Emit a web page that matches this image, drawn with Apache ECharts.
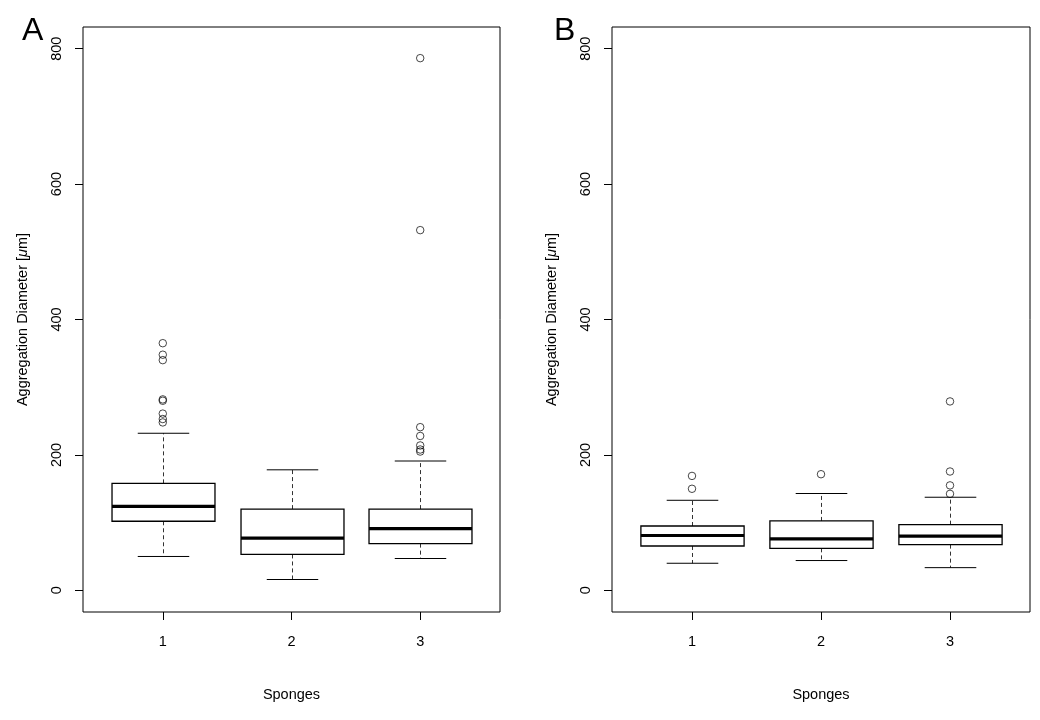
<!DOCTYPE html>
<html>
<head>
<meta charset="utf-8">
<script src="https://cdn.jsdelivr.net/npm/echarts@6/dist/echarts.min.js"></script>
<style>html,body{margin:0;padding:0;background:#fff}#c{width:1040px;height:720px}</style>
</head>
<body>
<div id="c"></div>
<script>
// ---- data ----
var categories = [1, 2, 3];
var yTicks = [0, 200, 400, 600, 800];
// [lower whisker, Q1, median, Q3, upper whisker]
var boxA1 = [50, 102, 124, 158, 232];
var boxA2 = [16, 53, 77, 120, 178];
var boxA3 = [47, 69, 91, 120, 191];
var outA1 = [365, 348, 340, 282, 280, 261, 253, 248];
var outA2 = [];
var outA3 = [786, 532, 241, 228, 214, 208, 205];
var boxB1 = [40, 65.5, 81, 95, 133];
var boxB2 = [44, 62, 76, 102.5, 143];
var boxB3 = [33.5, 67.5, 80, 97, 137.5];
var outB1 = [169, 150];
var outB2 = [171.5];
var outB3 = [279, 175.5, 155, 142.5];
var panelLabels = ['A', 'B'];
var xName = 'Sponges';
var yName = '{n|Aggregation Diameter [}{i|μ}{n|m]}';

var FONT = "'Liberation Sans', Arial, Helvetica, sans-serif";
var FS = 14.5;

function boxData(boxes) {
  return boxes.map(function (b, i) { return [categories[i]].concat(b); });
}
function outData(outs) {
  var r = [];
  outs.forEach(function (o, i) { o.forEach(function (v) { r.push([categories[i], v]); }); });
  return r;
}

function renderBox(params, api) {
  var x = api.value(0);
  var lo = api.coord([x, api.value(1)]);
  var q1 = api.coord([x, api.value(2)]);
  var md = api.coord([x, api.value(3)]);
  var q3 = api.coord([x, api.value(4)]);
  var hi = api.coord([x, api.value(5)]);
  var bw = api.size([0.8, 0])[0];
  var cw = api.size([0.4, 0])[0];
  var cx = Math.round(lo[0]) + 0.5;
  var stroke = { stroke: '#000', lineWidth: 1, fill: null };
  var dashed = { stroke: '#333', lineWidth: 1, lineDash: [4, 3], fill: null };
  return {
    type: 'group',
    children: [
      { type: 'line', shape: { x1: cx, y1: q3[1], x2: cx, y2: hi[1] }, style: dashed },
      { type: 'line', shape: { x1: cx, y1: q1[1], x2: cx, y2: lo[1] }, style: dashed },
      { type: 'line', shape: { x1: cx - cw / 2, y1: hi[1], x2: cx + cw / 2, y2: hi[1] }, style: stroke },
      { type: 'line', shape: { x1: cx - cw / 2, y1: lo[1], x2: cx + cw / 2, y2: lo[1] }, style: stroke },
      { type: 'rect', shape: { x: cx - bw / 2, y: q3[1], width: bw, height: q1[1] - q3[1] },
        style: { stroke: '#000', lineWidth: 1.3, fill: '#fff' } },
      { type: 'line', shape: { x1: cx - bw / 2, y1: md[1], x2: cx + bw / 2, y2: md[1] },
        style: { stroke: '#000', lineWidth: 3.2 } }
    ]
  };
}

function xAxisCfg(gi) {
  return {
    gridIndex: gi, type: 'value', min: 0.38, max: 3.62,
    axisLine: { show: false, onZero: false },
    splitLine: { show: false },
    axisTick: { show: true, inside: false, length: 8, customValues: categories, lineStyle: { color: '#000' } },
    axisLabel: { show: true, customValues: categories, margin: 22, color: '#000', fontSize: FS, fontFamily: FONT },
    name: xName, nameLocation: 'middle', nameGap: 75,
    nameTextStyle: { color: '#000', fontSize: FS, fontFamily: FONT }
  };
}
function yAxisCfg(gi) {
  return {
    gridIndex: gi, type: 'value', min: -32, max: 832,
    axisLine: { show: false, onZero: false },
    splitLine: { show: false },
    axisTick: { show: true, inside: false, length: 8, customValues: yTicks, lineStyle: { color: '#000' } },
    axisLabel: { show: true, customValues: yTicks, rotate: 90, margin: 19, color: '#000', fontSize: FS, fontFamily: FONT },
    name: yName, nameLocation: 'middle', nameRotate: 90, nameGap: 53,
    nameTextStyle: {
      color: '#000', fontSize: FS, fontFamily: FONT,
      rich: {
        n: { color: '#000', fontSize: FS, fontFamily: FONT },
        i: { color: '#000', fontSize: FS, fontFamily: FONT, fontStyle: 'italic' }
      }
    }
  };
}

var scatterStyle = { color: 'transparent', borderColor: '#000', borderWidth: 0.9 };

var chart = echarts.init(document.getElementById('c'), null, { renderer: 'canvas' });
chart.setOption({
  backgroundColor: '#fff',
  animation: false,
  grid: [
    { left: 83, top: 27, width: 417, height: 585, show: true, borderColor: '#000', borderWidth: 1, backgroundColor: 'transparent' },
    { left: 612, top: 27, width: 418, height: 585, show: true, borderColor: '#000', borderWidth: 1, backgroundColor: 'transparent' }
  ],
  xAxis: [xAxisCfg(0), xAxisCfg(1)],
  yAxis: [yAxisCfg(0), yAxisCfg(1)],
  graphic: [
    { type: 'text', left: 22, top: 15, style: { text: panelLabels[0], fontSize: 32, fontFamily: FONT, fill: '#000' } },
    { type: 'text', left: 554, top: 15, style: { text: panelLabels[1], fontSize: 32, fontFamily: FONT, fill: '#000' } }
  ],
  series: [
    { type: 'custom', xAxisIndex: 0, yAxisIndex: 0, renderItem: renderBox,
      encode: { x: 0, y: [1, 2, 3, 4, 5] }, data: boxData([boxA1, boxA2, boxA3]) },
    { type: 'custom', xAxisIndex: 1, yAxisIndex: 1, renderItem: renderBox,
      encode: { x: 0, y: [1, 2, 3, 4, 5] }, data: boxData([boxB1, boxB2, boxB3]) },
    { type: 'scatter', xAxisIndex: 0, yAxisIndex: 0, symbol: 'circle', symbolSize: 7.5,
      itemStyle: scatterStyle, data: outData([outA1, outA2, outA3]) },
    { type: 'scatter', xAxisIndex: 1, yAxisIndex: 1, symbol: 'circle', symbolSize: 7.5,
      itemStyle: scatterStyle, data: outData([outB1, outB2, outB3]) }
  ]
});
</script>
</body>
</html>
